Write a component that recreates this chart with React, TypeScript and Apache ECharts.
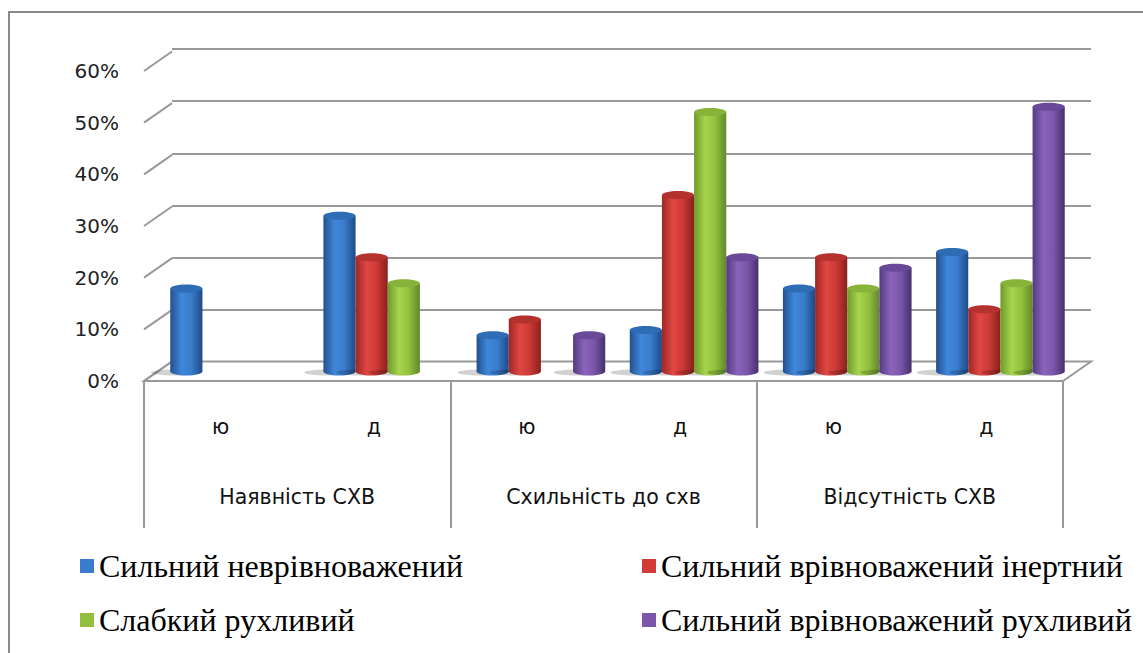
import React, { useEffect, useRef } from "react";
import * as echarts from "echarts";

const subCategories = ["ю", "д", "ю", "д", "ю", "д"];
const groups = ["Наявність СХВ", "Схильність до схв", "Відсутність СХВ"];
const yTicks = [0, 10, 20, 30, 40, 50, 60];

const seriesNames = [
  "Сильний неврівноважений",
  "Сильний врівноважений інертний",
  "Слабкий рухливий",
  "Сильний врівноважений рухливий",
];
const strongUnbalanced = [16, 30, 7, 8, 16, 23];
const strongInert = [0, 22, 10, 34, 22, 12];
const weakMobile = [0, 17, 0, 50, 16, 17];
const strongMobile = [0, 0, 7, 22, 20, 51];
const seriesValues = [strongUnbalanced, strongInert, weakMobile, strongMobile];

const palettes = [
  { base: "#3b7bcb", stops: ["#23508f", "#3f87da", "#3a7ccc", "#1f4a86"], top: "#2f6cb6" },
  { base: "#d23c38", stops: ["#9e2724", "#e04743", "#cc3a36", "#8a201e"], top: "#b5312e" },
  { base: "#92c03e", stops: ["#6e9a2a", "#a8d44e", "#93c13e", "#62882a"], top: "#88b33a" },
  { base: "#7b57aa", stops: ["#543a80", "#8a64ba", "#7a56aa", "#47306c"], top: "#6a4a98" },
];

const DX = 28;
const DY = 19.5;

function grad(stops: string[]) {
  return {
    type: "linear",
    x: 0,
    y: 0,
    x2: 1,
    y2: 0,
    colorStops: [
      { offset: 0, color: stops[0] },
      { offset: 0.35, color: stops[1] },
      { offset: 0.65, color: stops[2] },
      { offset: 1, color: stops[3] },
    ],
  };
}

export default function App() {
  const ref = useRef<HTMLDivElement>(null);
  useEffect(() => {
    if (!ref.current) return;
    const chart = echarts.init(ref.current, undefined, { renderer: "svg" });
    const lineColor = "#999999";

    const barSeries = seriesValues.map((vals, k) => ({
      type: "custom",
      name: seriesNames[k],
      xAxisIndex: 0,
      yAxisIndex: 0,
      itemStyle: { color: palettes[k].base },
      z: 5,
      data: vals.map((v, i) => [i, v]),
      renderItem: (params: any, api: any) => {
        const i = api.value(0);
        const v = api.value(1);
        if (!v) return { type: "group", children: [] };
        const top = api.coord([i, v]);
        const base = api.coord([i, 0]);
        const bw = api.size([1, 0])[0];
        const w = bw * 0.21;
        const cx = top[0] + (k - 1.5) * w;
        const x0 = cx - w / 2;
        const ry = 4;
        const fill = grad(palettes[k].stops);
        return {
          type: "group",
          children: [
            {
              type: "ellipse",
              shape: { cx: cx - w * 0.35, cy: base[1] + 1, rx: w * 0.75, ry: 3 },
              style: { fill: "rgba(0,0,0,0.18)" },
            },
            {
              type: "ellipse",
              shape: { cx, cy: base[1], rx: w / 2, ry },
              style: { fill },
            },
            {
              type: "rect",
              shape: { x: x0, y: top[1], width: w, height: base[1] - top[1] },
              style: { fill },
            },
            {
              type: "ellipse",
              shape: { cx, cy: top[1], rx: w / 2, ry },
              style: { fill: palettes[k].top },
            },
          ],
        };
      },
    }));

    const frameSeries = {
      type: "custom",
      name: "frame",
      xAxisIndex: 1,
      yAxisIndex: 1,
      silent: true,
      z: 1,
      data: yTicks.map((v) => [0, v]),
      renderItem: (params: any, api: any) => {
        const v = api.value(1);
        const p = api.coord([0, v]);
        const bw = api.size([1, 0])[0];
        const xL = p[0] - bw / 2;
        const children: any[] = [
          {
            type: "line",
            shape: { x1: xL, y1: p[1], x2: xL + DX, y2: p[1] - DY },
            style: { stroke: lineColor, lineWidth: 2 },
          },
        ];
        if (v === 0) {
          const xR = xL + bw * subCategories.length;
          children.unshift({
            type: "polygon",
            shape: {
              points: [
                [xL, p[1]],
                [xR, p[1]],
                [xR + DX, p[1] - DY],
                [xL + DX, p[1] - DY],
              ],
            },
            style: { fill: "#ffffff", stroke: lineColor, lineWidth: 2 },
          });
        }
        return { type: "group", children };
      },
    };

    const legendText = {
      fontFamily: "Liberation Serif",
      fontSize: 32,
      color: "#000",
      lineHeight: 32,
    };

    const catFont = {
      fontFamily: "DejaVu Sans",
      fontSize: 20.5,
      color: "#111",
    };

    chart.setOption({
      animation: false,
      graphic: [
        {
          type: "rect",
          shape: { x: 9, y: 12, width: 1300, height: 800 },
          style: { fill: "none", stroke: "#8a8a8a", lineWidth: 2 },
          silent: true,
        },
      ],
      legend: [
        {
          data: [seriesNames[0], seriesNames[2]],
          orient: "vertical",
          left: 75,
          top: 545,
          itemWidth: 14,
          itemHeight: 14,
          itemGap: 22,
          icon: "rect",
          textStyle: legendText,
        },
        {
          data: [seriesNames[1], seriesNames[3]],
          orient: "vertical",
          left: 637,
          top: 545,
          itemWidth: 14,
          itemHeight: 14,
          itemGap: 22,
          icon: "rect",
          textStyle: legendText,
        },
      ],
      grid: [
        { left: 158, right: 1143 - 1077, top: 60, bottom: 653 - 371.5 },
        { left: 144, right: 1143 - 1063, top: 71, bottom: 653 - 381 },
        { left: 172, right: 1143 - 1091, top: 49, bottom: 653 - 362 },
      ],
      xAxis: [
        { type: "category", gridIndex: 0, data: subCategories, show: false },
        {
          type: "category",
          gridIndex: 1,
          data: subCategories,
          axisLine: { show: false },
          axisTick: { show: false },
          axisLabel: { margin: 35, ...catFont },
        },
        {
          type: "category",
          gridIndex: 1,
          data: groups,
          position: "bottom",
          axisLine: { show: false },
          axisTick: {
            show: true,
            length: 147,
            lineStyle: { color: lineColor, width: 2 },
          },
          axisLabel: { margin: 105, ...catFont },
        },
        { type: "category", gridIndex: 2, data: subCategories, show: false },
      ],
      yAxis: [
        { type: "value", gridIndex: 0, min: 0, max: 60, interval: 10, show: false },
        {
          type: "value",
          gridIndex: 1,
          min: 0,
          max: 60,
          interval: 10,
          axisLine: { show: false },
          axisTick: { show: false },
          splitLine: { show: false },
          axisLabel: {
            formatter: "{value}%",
            margin: 25,
            fontFamily: "DejaVu Sans",
            fontSize: 20,
            color: "#222",
          },
        },
        {
          type: "value",
          gridIndex: 2,
          min: 0,
          max: 60,
          interval: 10,
          axisLine: { show: false },
          axisTick: { show: false },
          axisLabel: { show: false },
          splitLine: { show: true, lineStyle: { color: lineColor, width: 2 } },
        },
      ],
      series: [frameSeries, ...barSeries],
    });
    return () => chart.dispose();
  }, []);
  return (
    <div
      ref={ref}
      style={{ position: "absolute", left: 0, top: 0, width: 1143, height: 653, background: "#fff" }}
    />
  );
}
